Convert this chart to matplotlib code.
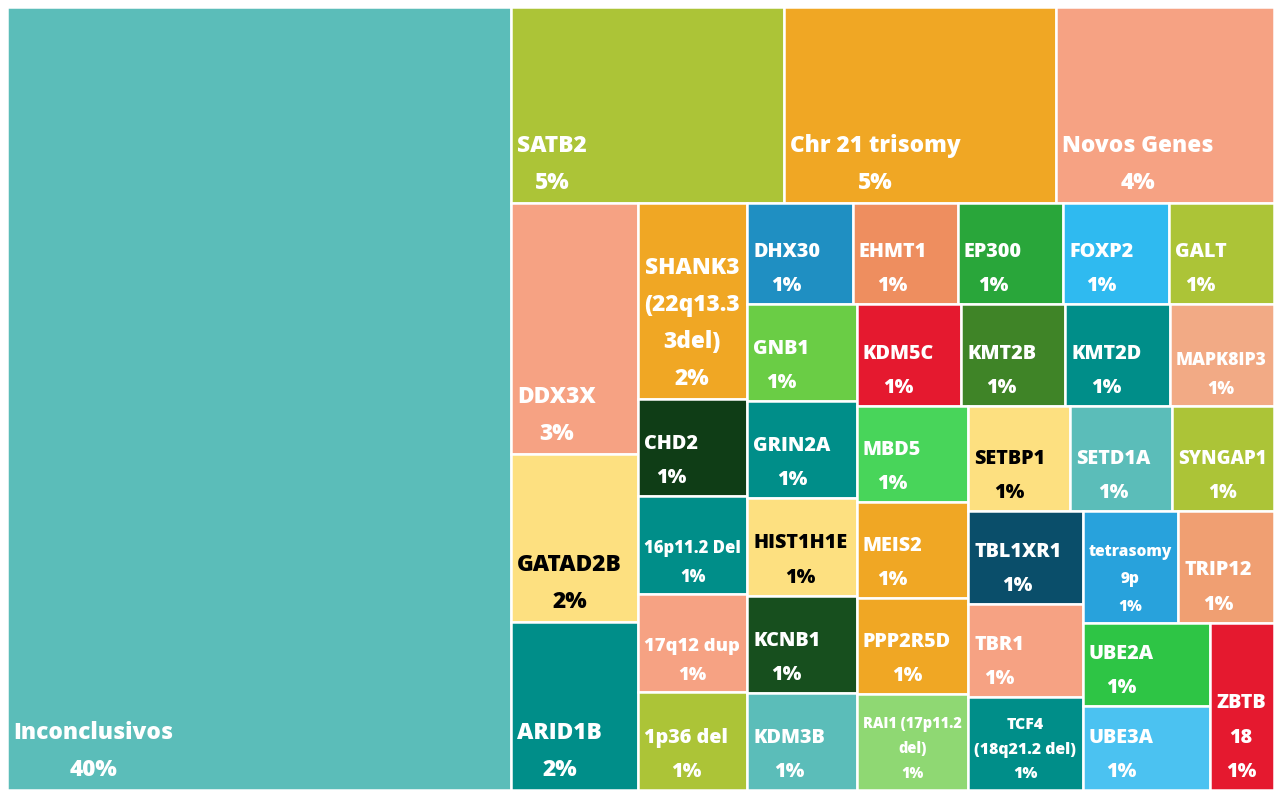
import numpy as np
import matplotlib
matplotlib.use('Agg')
import matplotlib.pyplot as plt
from matplotlib.patches import Rectangle
from matplotlib import colors as mcolors
from matplotlib import rcParams
rcParams['font.family'] = ['Open Sans', 'DejaVu Sans']

## Data (counts), in the order the treemap places them
names = ["Inconclusivos", "SATB2", "Chr 21 trisomy", "Novos Genes",
         "DDX3X", "GATAD2B", "ARID1B", "SHANK3\n(22q13.3\n3del)",
         "CHD2", "16p11.2 Del", "17q12 dup", "1p36 del",
         "DHX30", "EHMT1", "EP300", "FOXP2", "GALT",
         "GNB1", "GRIN2A", "HIST1H1E", "KCNB1", "KDM3B",
         "KDM5C", "KMT2B", "KMT2D", "MAPK8IP3",
         "MBD5", "MEIS2", "PPP2R5D", "RAI1 (17p11.2\ndel)",
         "SETBP1", "SETD1A", "SYNGAP1",
         "TBL1XR1", "TBR1", "TCF4\n(18q21.2 del)",
         "tetrasomy\n9p", "TRIP12",
         "UBE2A", "UBE3A",
         "ZBTB\n18"]
counts = [37, 5, 5, 4,
          3, 2, 2, 2,
          1, 1, 1, 1,
          1, 1, 1, 1, 1,
          1, 1, 1, 1, 1,
          1, 1, 1, 1,
          1, 1, 1, 1,
          1, 1, 1,
          1, 1, 1,
          1, 1,
          1, 1,
          1]
cell_colors = ["#5BBDB9", "#ACC437", "#F0A724", "#F6A283",
               "#F6A283", "#FDE080", "#008E89", "#F0A724",
               "#0F3D16", "#008E89", "#F6A283", "#ACC437",
               "#1F8FC2", "#EE8E5F", "#29A63A", "#2FBAF0", "#ACC437",
               "#6ACD45", "#008E89", "#FDE080", "#174F1E", "#5BBDB9",
               "#E5192F", "#3F8427", "#008E89", "#F2AA85",
               "#48D55A", "#F0A724", "#F0A724", "#8FD873",
               "#FDE080", "#5BBDB9", "#ACC437",
               "#0A4E6A", "#F6A283", "#008E89",
               "#28A2DC", "#F09F72",
               "#2EC545", "#4BC2F1",
               "#E5192F"]

# how many cells go in each strip (row/column) of the squarified layout
strips = [1, 3, 3, 5, 5, 5, 4, 4, 3, 3, 2, 2, 1]

total = float(sum(counts))

## Layout: each strip laid along the shorter side of what is left
W, H = 1283, 797
x0, y0, x1, y1 = 7.0, 7.0, 1274.0, 790.0
rects = []
i = 0
remaining = total
for n in strips:
    vals = counts[i:i + n]
    s = float(sum(vals))
    dx, dy = x1 - x0, y1 - y0
    if dx <= dy:
        # row along the top
        h = dy * s / remaining
        xx = x0
        for v in vals:
            w = dx * v / s
            rects.append((xx, y0, w, h))
            xx += w
        y0 += h
    else:
        # column on the left
        w = dx * s / remaining
        yy = y0
        for v in vals:
            h = dy * v / s
            rects.append((x0, yy, w, h))
            yy += h
        x0 += w
    remaining -= s
    i += n

fig = plt.figure(figsize=(W / 100, H / 100), dpi=100)
ax = fig.add_axes([0, 0, 1, 1])
ax.set_xlim(0, W)
ax.set_ylim(H, 0)
ax.axis('off')
fig.canvas.draw()
renderer = fig.canvas.get_renderer()

pad = 6
for (rx, ry, rw, rh), name, v, c in zip(rects, names, counts, cell_colors):
    ax.add_patch(Rectangle((rx, ry), rw, rh, facecolor=c, edgecolor='white', linewidth=1.8))
    r, g, b = mcolors.to_rgb(c)
    lum = 0.2126 * r + 0.7152 * g + 0.0722 * b
    tcol = 'black' if lum > 0.8 else 'white'
    label = name + "\n%d%%" % round(100 * v / total)
    fs = 16.3 if v > 1 else 14.2
    ls = 1.72 if v > 1 else 1.95
    t = ax.text(rx + pad, ry + rh - pad - 2, label, color=tcol, fontsize=fs, fontweight='heavy',
                ha='left', va='bottom', multialignment='center', linespacing=ls)
    # squeeze the text until it fits in the cell
    while True:
        bb = t.get_window_extent(renderer)
        fits_w = bb.width <= rw - 2 * pad
        fits_h = bb.height <= rh - 2 * pad
        if (fits_w and fits_h) or fs < 6:
            break
        if not fits_h and ls > 1.55:
            ls -= 0.05
            t.set_linespacing(ls)
        else:
            fs -= 0.25
            t.set_fontsize(fs)

fig.savefig('out.png', dpi=100)
